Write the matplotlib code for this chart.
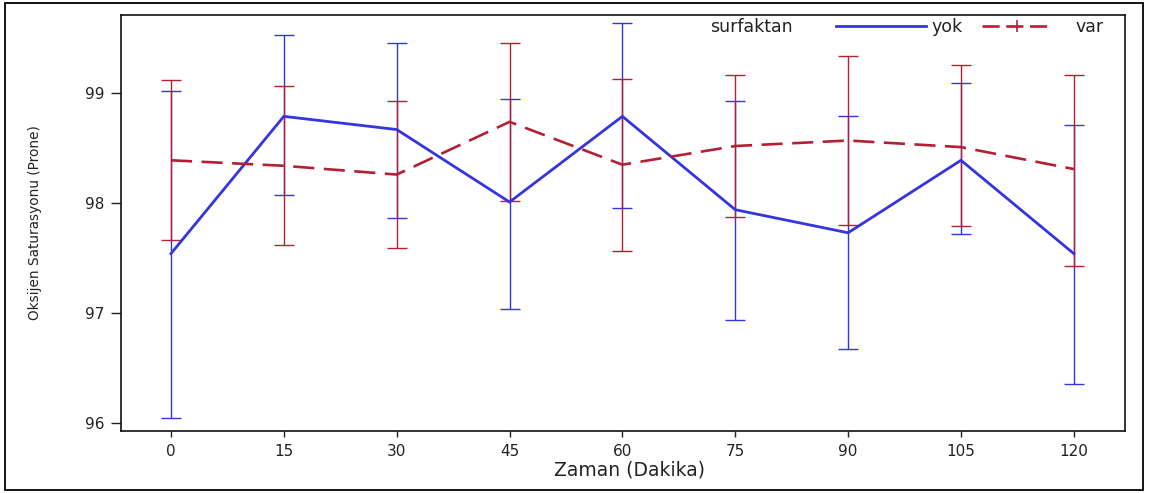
import matplotlib
matplotlib.use("Agg")
import matplotlib.pyplot as plt
from matplotlib.lines import Line2D
from matplotlib.patches import Rectangle
from matplotlib import font_manager

# ---- data ----
times = [0, 15, 30, 45, 60, 75, 90, 105, 120]
xtick_labels = ["0", "15", "30", "45", "60", "75", "90", "105", "120"]
ytick_values = [96, 97, 98, 99]

yok_mean = [97.54, 98.79, 98.67, 98.01, 98.79, 97.94, 97.73, 98.39, 97.54]
yok_upper = [99.02, 99.53, 99.46, 98.95, 99.64, 98.93, 98.79, 99.09, 98.71]
yok_lower = [96.04, 98.07, 97.86, 97.04, 97.96, 96.94, 96.67, 97.72, 96.35]

var_mean = [98.39, 98.34, 98.26, 98.74, 98.35, 98.52, 98.57, 98.51, 98.31]
var_upper = [99.12, 99.07, 98.93, 99.46, 99.13, 99.17, 99.34, 99.26, 99.17]
var_lower = [97.66, 97.62, 97.59, 98.02, 97.56, 97.87, 97.80, 97.79, 97.43]

legend_title = "surfaktan"
group_labels = ["yok", "var"]
xlabel = "Zaman (Dakika)"
ylabel = "Oksijen Saturasyonu (Prone)"

BLUE = "#3434E0"
RED = "#B51F35"

names = {f.name for f in font_manager.fontManager.ttflist}
narrow = "Liberation Sans Narrow" if "Liberation Sans Narrow" in names else "DejaVu Sans Condensed"

plt.rcParams["font.family"] = ["DejaVu Sans"]

fig = plt.figure(figsize=(11.5, 4.93), dpi=100)
ax = fig.add_axes([121 / 1150, 1 - 431 / 493, (1125 - 121) / 1150, (431 - 15) / 493])

# outer border
fig.patches.append(Rectangle((5 / 1150, 1 - 490 / 493), (1143 - 5) / 1150, (490 - 3) / 493,
                             transform=fig.transFigure, fill=False, edgecolor="black",
                             linewidth=1.3, zorder=0))

def err(mean, lo, hi):
    return [[m - l for m, l in zip(mean, lo)], [h - m for m, h in zip(mean, hi)]]

ax.errorbar(times, yok_mean, yerr=err(yok_mean, yok_lower, yok_upper), fmt="none",
            ecolor=BLUE, elinewidth=1.0, capsize=7, capthick=1.0, zorder=2)
ax.errorbar(times, var_mean, yerr=err(var_mean, var_lower, var_upper), fmt="none",
            ecolor=RED, elinewidth=1.0, capsize=7, capthick=1.0, zorder=3)
ax.plot(times, yok_mean, color=BLUE, linewidth=2.0, zorder=4, solid_joinstyle="miter")
ax.plot(times, var_mean, color=RED, linewidth=1.9, dashes=(8, 3.6), zorder=5)

ax.set_xlim(-6.64, 126.8)
ax.set_ylim(95.925, 99.713)
ax.set_xticks(times)
ax.set_xticklabels(xtick_labels)
ax.set_yticks(ytick_values)
ax.set_yticklabels([str(v) for v in ytick_values])
ax.tick_params(axis="x", direction="out", length=4, width=1.0, labelsize=11, pad=5, colors="#222222")
ax.tick_params(axis="y", direction="out", length=7, width=1.0, labelsize=11, pad=5, colors="#222222")
for s in ax.spines.values():
    s.set_linewidth(1.2)
    s.set_color("#111111")

ax.set_xlabel(xlabel, fontsize=13.5, color="#222222")
ax.xaxis.set_label_coords((630 - 121) / 1004, (431 - 460) / 416)
ax.set_ylabel(ylabel, fontsize=9.8, family=[narrow, "DejaVu Sans"], color="#222222")
ax.yaxis.set_label_coords((35 - 121) / 1004, 0.5)
ax.yaxis.label.set_va("center")

# legend
ly = (431 - 27) / 416
ax.text((710 - 121) / 1004, ly, legend_title, transform=ax.transAxes,
        fontsize=12.5, va="center", ha="left", color="#222222")
h_yok = Line2D([], [], color=BLUE, linewidth=2.0)
h_var = Line2D([], [], color=RED, linewidth=1.9, dashes=(6.5, 2.5), marker="|",
               markersize=9, markeredgewidth=1.2)
leg1 = ax.legend([h_yok], group_labels[:1], loc="center left",
                 bbox_to_anchor=((836 - 121) / 1004, ly), frameon=False, fontsize=12.5,
                 handlelength=5.2, handletextpad=0.3, borderpad=0, borderaxespad=0)
ax.add_artist(leg1)
leg2 = ax.legend([h_var], group_labels[1:], loc="center left",
                 bbox_to_anchor=((982 - 121) / 1004, ly), frameon=False, fontsize=12.5,
                 handlelength=4.0, handletextpad=1.4, numpoints=1, borderpad=0, borderaxespad=0)
for lg in (leg1, leg2):
    for t in lg.get_texts():
        t.set_color("#222222")

fig.savefig("out.png", dpi=100)
